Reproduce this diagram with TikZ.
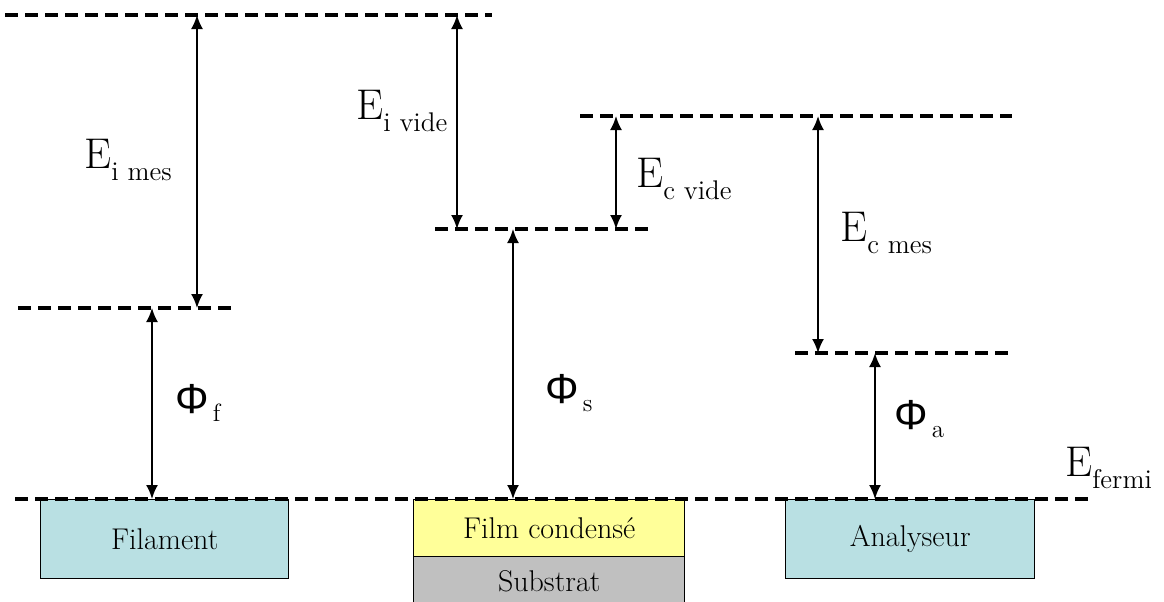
\documentclass[tikz,border=0pt]{standalone}
\usepackage{fontspec}
\newfontfamily\phifont{Liberation Sans}
\usetikzlibrary{arrows.meta}
\definecolor{metalblue}{RGB}{185,224,227}
\definecolor{filmyellow}{RGB}{255,255,153}
\definecolor{substratgray}{RGB}{192,192,192}
\newcommand{\elevel}[1]{E\raisebox{-6pt}{\fontsize{13.5}{15}\selectfont #1}}
\newcommand{\wfunc}[1]{{\phifont\fontsize{21}{24}\selectfont Φ}\hspace{2pt}\raisebox{-4pt}{\fontsize{12.5}{14}\selectfont #1}}
\begin{document}
\begin{tikzpicture}[x=0.5pt, y=-0.5pt,
  level/.style={line width=1.6pt, dash pattern=on 6.5pt off 3.5pt},
  gap/.style={{Latex[length=7pt,width=6pt]}-{Latex[length=7pt,width=6pt]}, line width=1pt},
  metal/.style={draw, line width=0.7pt, inner sep=0pt, anchor=north west, font=\fontsize{15}{17}\selectfont},
  elab/.style={anchor=base west, inner sep=0pt, font=\fontsize{21.5}{25}\selectfont}]
  \useasboundingbox (0,0) rectangle (1164,601);

  % metals
  \node[metal, fill=metalblue, minimum width=124pt, minimum height=39.5pt] (filament) at (40,499) {Filament};
  \node[metal, fill=filmyellow, minimum width=135.5pt, minimum height=28.5pt] (film) at (413,499) {Film condens\'e};
  \node[metal, fill=substratgray, minimum width=135.5pt, minimum height=25pt] (substrat) at (413,556) {Substrat};
  \node[metal, fill=metalblue, minimum width=124.5pt, minimum height=39.5pt] (analyseur) at (785,499) {Analyseur};

  % energy levels
  \draw[level] (5,15) -- (492,15);
  \draw[level] (18,308) -- (232,308);
  \draw[level] (435,229) -- (650,229);
  \draw[level] (580,116) -- (1012,116);
  \draw[level] (795,353) -- (1012,353);
  \draw[level] (15,499) -- (1090,499);

  % arrow ends
  \coordinate (imesT) at (197,15);   \coordinate (imesB) at (197,308);
  \coordinate (phifT) at (152,308);  \coordinate (phifB) at (152,499);
  \coordinate (ividT) at (457,15);   \coordinate (ividB) at (457,229);
  \coordinate (cvidT) at (616,116);  \coordinate (cvidB) at (616,229);
  \coordinate (phisT) at (513,229);  \coordinate (phisB) at (513,499);
  \coordinate (cmesT) at (818,116);  \coordinate (cmesB) at (818,353);
  \coordinate (phiaT) at (875,353);  \coordinate (phiaB) at (875,499);

  \draw[gap] (imesT) -- (imesB);
  \draw[gap] (phifT) -- (phifB);
  \draw[gap] (ividT) -- (ividB);
  \draw[gap] (cvidT) -- (cvidB);
  \draw[gap] (phisT) -- (phisB);
  \draw[gap] (cmesT) -- (cmesB);
  \draw[gap] (phiaT) -- (phiaB);

  % labels
  \node[elab] (eimes) at (84,168) {\elevel{i mes}};
  \node[elab] (eivide) at (356,119) {\elevel{i vide}};
  \node[elab] (ecvide) at (636,187) {\elevel{c vide}};
  \node[elab] (ecmes) at (840,241) {\elevel{c mes}};
  \node[elab] (efermi) at (1065,476) {\elevel{fermi}};
  \node[elab] (phif) at (175,413) {\wfunc{f}};
  \node[elab] (phis) at (545,403) {\wfunc{s}};
  \node[elab] (phia) at (894,429) {\wfunc{a}};
\end{tikzpicture}
\end{document}
